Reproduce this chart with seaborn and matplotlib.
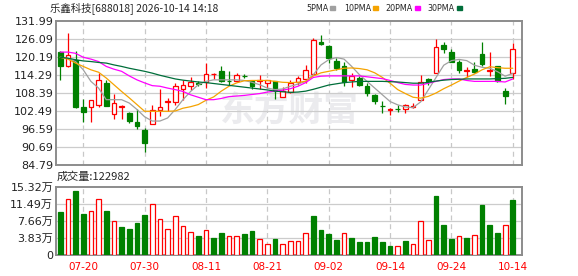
import numpy as np
import pandas as pd
import matplotlib
matplotlib.use("Agg")
import matplotlib.pyplot as plt
import seaborn as sns

# ---- data ----
dates = ["07-20", "07-30", "08-11", "08-21", "09-02", "09-14", "09-24", "10-14"]
date_idx = [3, 11, 19, 27, 35, 43, 51, 59]

opens = [121.8, 117.1, 119.3, 103.8, 103.8, 104.5, 111.7, 101.4, 103.9, 101.9,
         99.0, 96.1, 98.3, 102.7, 105.6, 105.5, 109.7, 110.6, 111.6, 111.9,
         114.5, 115.7, 112.4, 112.2, 114.1, 112.2, 112.4, 111.7, 112.2, 107.1,
         108.7, 112.0, 113.0, 114.6, 125.1, 123.8, 118.9, 117.4, 112.5, 113.3,
         110.8, 107.8, 104.1, 102.9, 103.2, 103.0, 103.9, 106.2, 113.0, 114.9,
         124.2, 121.8, 118.5, 115.7, 116.3, 121.2, 115.6, 117.3, 109.2, 114.9]
highs = [122.0, 128.0, 122.0, 106.5, 106.1, 114.9, 112.7, 108.2, 104.6, 102.2,
         103.0, 96.8, 104.3, 109.6, 106.8, 111.7, 112.5, 113.5, 112.2, 118.1,
         115.1, 117.1, 115.7, 114.9, 114.7, 112.7, 114.4, 112.8, 112.3, 110.2,
         112.6, 114.0, 117.6, 126.3, 127.4, 124.0, 120.0, 118.4, 115.1, 113.8,
         111.7, 108.0, 105.7, 103.5, 104.3, 104.7, 105.1, 114.4, 113.3, 126.1,
         125.1, 122.9, 119.3, 116.8, 118.5, 125.1, 121.8, 117.4, 110.0, 124.7]
lows = [112.7, 117.0, 103.5, 98.8, 98.8, 103.8, 104.0, 100.0, 100.0, 98.6,
        96.5, 89.0, 98.3, 100.8, 102.4, 104.6, 106.2, 109.5, 110.6, 110.0,
        113.0, 111.9, 111.1, 111.9, 113.3, 109.7, 109.7, 110.0, 106.4, 107.1,
        108.4, 110.9, 111.7, 114.5, 124.2, 118.2, 115.8, 110.6, 110.2, 110.8,
        107.5, 104.9, 101.9, 101.1, 102.3, 101.9, 103.5, 106.0, 111.1, 114.8,
        121.4, 118.6, 114.9, 113.6, 114.9, 117.1, 113.8, 112.1, 104.8, 113.0]
closes = [117.1, 120.7, 103.8, 102.3, 106.1, 112.6, 104.0, 105.1, 104.1, 99.1,
          97.5, 92.0, 102.7, 103.8, 105.8, 110.6, 111.1, 112.1, 111.5, 114.7,
          114.7, 112.2, 112.3, 114.4, 114.0, 110.8, 112.5, 112.7, 108.9, 108.9,
          111.7, 113.3, 116.0, 125.8, 124.4, 119.8, 116.6, 112.0, 114.0, 111.1,
          108.4, 105.7, 104.0, 103.0, 103.0, 104.6, 104.1, 111.9, 112.4, 123.6,
          122.8, 118.7, 115.8, 115.9, 115.2, 117.9, 116.0, 112.2, 107.5, 122.8]

# volume in 万 shares, and direction of each volume bar (R = up, G = down)
volume = [9.66, 12.53, 14.42, 9.21, 9.81, 12.53, 9.89, 7.77, 6.27, 5.81,
          7.17, 8.98, 11.4, 8.0, 5.96, 8.68, 6.64, 5.28, 4.23, 5.74,
          3.77, 4.9, 4.38, 4.38, 4.68, 5.36, 3.55, 2.57, 3.55, 2.57,
          3.25, 3.25, 5.06, 8.68, 5.59, 4.68, 3.32, 4.9, 3.92, 2.87,
          2.87, 4.0, 2.87, 1.96, 1.96, 3.25, 2.42, 7.55, 3.47, 13.2,
          6.72, 3.55, 4.23, 3.92, 4.45, 11.17, 6.72, 4.9, 6.72, 12.2982]
vol_dir = "GRGGRRGRGGGGRRRRRRGRGGRRGGRRGRRRRGGGGRGGGGGGRGRRRGGGRGRGGGR"

ma5 = [120.1, 119.8, 118.7, 116.0, 112.2, 110.0, 106.2, 106.2, 106.2, 105.1,
       103.0, 100.6, 99.2, 99.2, 100.2, 103.0, 106.2, 108.9, 111.1, 112.2,
       112.7, 112.7, 112.7, 112.7, 112.5, 111.9, 111.1, 110.0, 109.5, 109.7,
       110.6, 111.3, 112.2, 114.4, 117.6, 119.3, 120.0, 119.5, 117.1, 114.4,
       112.2, 110.0, 107.8, 105.6, 104.5, 103.8, 103.6, 105.5, 109.5, 113.5,
       117.5, 119.0, 119.4, 119.0, 117.5, 116.8, 116.5, 115.4, 113.9, 114.8]
ma10 = [120.1, 119.5, 118.2, 117.1, 116.0, 115.2, 113.3, 111.1, 108.9, 106.8,
        104.6, 102.4, 102.4, 102.4, 102.4, 102.5, 103.4, 103.9, 104.6, 106.0,
        107.1, 109.0, 110.6, 111.7, 112.4, 112.5, 112.5, 112.5, 112.2, 111.9,
        111.8, 111.9, 112.2, 114.0, 115.0, 115.5, 116.0, 116.5, 116.6, 116.4,
        116.0, 115.0, 113.5, 111.6, 109.5, 108.2, 107.0, 106.7, 107.3, 108.4,
        109.8, 111.0, 112.3, 113.5, 114.6, 116.0, 117.0, 116.7, 116.5, 116.5]
ma20 = [121.8, 121.8, 121.4, 120.1, 119.5, 118.7, 117.1, 116.2, 115.5, 114.0,
        112.7, 111.7, 110.8, 110.6, 110.0, 109.5, 108.9, 107.8, 107.0, 106.2,
        106.2, 106.6, 107.2, 107.4, 107.6, 107.9, 108.2, 108.7, 109.0, 109.3,
        109.8, 110.6, 111.8, 113.5, 113.9, 114.0, 114.0, 114.0, 114.0, 114.0,
        113.7, 113.4, 113.1, 112.5, 111.8, 111.2, 111.0, 111.0, 111.6, 112.2,
        112.8, 113.0, 113.0, 112.5, 112.2, 112.2, 112.2, 112.2, 112.0, 113.0]
ma30 = [120.1, 119.8, 119.3, 118.9, 118.7, 118.4, 118.2, 117.6, 117.1, 116.5,
        116.0, 115.5, 114.9, 114.2, 113.6, 113.0, 112.6, 112.3, 112.0, 111.8,
        111.5, 111.2, 110.9, 110.6, 110.3, 110.0, 109.7, 109.4, 109.0, 108.8,
        108.6, 108.7, 109.0, 109.6, 110.3, 111.0, 111.4, 111.8, 112.0, 112.2,
        112.2, 112.2, 112.2, 112.1, 112.0, 111.8, 111.6, 111.6, 111.9, 112.3,
        112.6, 112.8, 112.9, 113.0, 113.0, 113.0, 113.0, 113.1, 113.2, 113.5]

price_ticks = [84.79, 90.69, 96.59, 102.49, 108.39, 114.29, 120.19, 126.09, 131.99]
vol_ticks = [0, 3.83, 7.66, 11.49, 15.32]

RED = "#ff0000"
GREEN = "#008000"
MA_COLORS = {"5PMA": "#a0a0a0", "10PMA": "#f5a300", "20PMA": "#ff00ff", "30PMA": "#006e3a"}

sns.set_theme(style="white")
plt.rcParams["font.family"] = ["DejaVu Sans", "Noto Sans CJK SC"]

W, H = 578, 276
fig = plt.figure(figsize=(W / 100, H / 100), dpi=100)
ax = fig.add_axes([56 / W, (H - 165) / H, 466 / W, 144 / H])
axv = fig.add_axes([56 / W, (H - 255) / H, 466 / W, 68 / H])

x = np.arange(len(closes))
o, h, l, c = map(np.array, (opens, highs, lows, closes))
up = c >= o
ccol = np.where(up, RED, GREEN)

for a in (ax, axv):
    a.set_xlim(-0.55, 60.2)
    for s in a.spines.values():
        s.set_color("#8c8c8c")
        s.set_linewidth(1.4)
    for di in date_idx:
        a.axvline(di, color="#c8c8c8", lw=0.9, ls=(0, (4, 3)), zorder=0)

# watermark
ax.text(0.5, 0.38, "东方财富", transform=ax.transAxes, ha="center", va="center",
        fontsize=25, fontweight="bold", color="#ebebee", family=["Noto Sans CJK SC"], zorder=0)

# price panel
ax.set_ylim(84.79, 131.99)
ax.set_yticks(price_ticks)
ax.set_yticklabels([f"{v:.2f}" for v in price_ticks], fontsize=8, color="#222222")
ax.set_xticks([])
for v in price_ticks[1:-1]:
    ax.axhline(v, color="#cccccc", lw=0.9, zorder=0)
ax.tick_params(axis="y", length=0, pad=2)

ax.vlines(x, l, h, colors=ccol, lw=0.9, zorder=2)
body_lo = np.minimum(o, c)
body_h = np.maximum(np.abs(c - o), 0.12)
ax.bar(x, body_h, bottom=body_lo, width=0.62, color=np.where(up, "white", GREEN),
       edgecolor=ccol, linewidth=0.9, zorder=3)

ma_df = pd.DataFrame({"x": np.tile(x, 4),
                      "v": ma5 + ma10 + ma20 + ma30,
                      "ma": np.repeat(list(MA_COLORS), len(x))})
sns.lineplot(data=ma_df, x="x", y="v", hue="ma", palette=MA_COLORS, ax=ax,
             legend=False, linewidth=0.9, zorder=4)
ax.set_xlabel("")
ax.set_ylabel("")

# volume panel
v = np.array(volume)
vup = np.array([d == "R" for d in vol_dir])
vcol = np.where(vup, RED, GREEN)
axv.set_ylim(0, 15.32)
axv.set_yticks(vol_ticks)
axv.set_yticklabels(["0"] + [f"{t:.2f}万" for t in vol_ticks[1:]], fontsize=8, color="#222222")
for t in vol_ticks[1:-1]:
    axv.axhline(t, color="#cccccc", lw=0.9, zorder=0)
axv.bar(x, v, width=0.62, color=np.where(vup, "white", GREEN), edgecolor=vcol,
        linewidth=0.9, zorder=3)
axv.set_xticks(date_idx)
axv.set_xticklabels(dates, fontsize=7.5, color=RED)
axv.tick_params(axis="both", length=0, pad=2)
axv.tick_params(axis="x", pad=5)

# header texts
fig.text(50 / W, 1 - 8.5 / H, "乐鑫科技[688018] 2026-10-14 14:18", fontsize=7.5,
         va="center", ha="left", family=["Noto Sans CJK SC", "DejaVu Sans"])
legend_x = [306, 344, 385, 427]
square_x = [330, 373, 415, 457]
for (name, col), lx, sx in zip(MA_COLORS.items(), legend_x, square_x):
    fig.text(lx / W, 1 - 8.5 / H, name, fontsize=5.8, va="center", ha="left")
    fig.patches.append(plt.Rectangle((sx / W, 1 - 10 / H), 5 / W, 3.5 / H,
                                     transform=fig.transFigure, color=col))
fig.text(57 / W, 1 - 177 / H, "成交量:122982", fontsize=8, va="center", ha="left",
         family=["Noto Sans CJK SC", "DejaVu Sans"])

fig.savefig("out.png", dpi=100)
